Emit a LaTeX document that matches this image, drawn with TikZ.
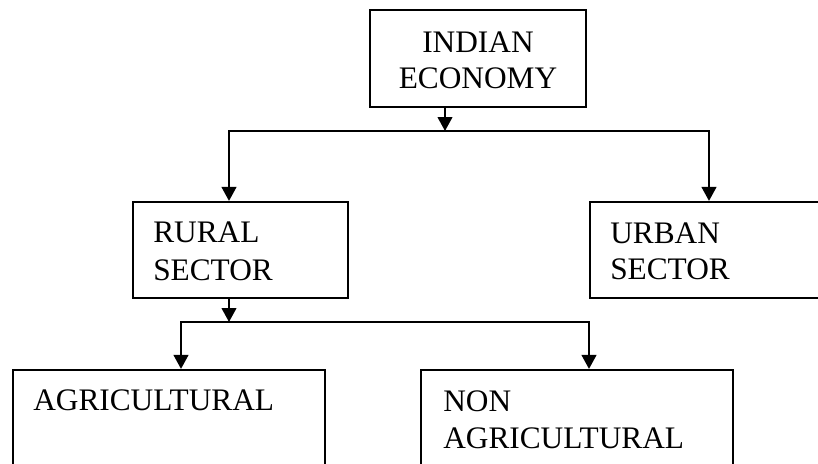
\documentclass[tikz,border=0pt]{standalone}
\usepackage{fontspec}
\setmainfont{Liberation Serif}
\usetikzlibrary{arrows.meta,fit}
\begin{document}
\begin{tikzpicture}[x=0.75pt,y=-0.75pt,
  box/.style={draw, line width=1.6pt, inner sep=0pt},
  lbl/.style={anchor=base west, inner sep=0pt, font=\fontsize{23.5}{28}\selectfont},
  clbl/.style={lbl, anchor=base},
  conn/.style={line width=1.6pt, line cap=rect},
  arr/.style={line width=1.6pt, -{Triangle[length=10.5pt,width=11pt]}}]
\useasboundingbox (0,0) rectangle (818,464);
\clip (0,0) rectangle (818,464);

% boxes
\node[box, fit={(370,10) (586,107)}] (econ) {};
\node[box, fit={(133,202) (348,298)}] (rural) {};
\node[box, fit={(590,202) (840,298)}] (urban) {};
\node[box, fit={(13,370) (325,490)}] (agri) {};
\node[box, fit={(421,370) (733,490)}] (nonagri) {};

% labels
\node[clbl] (econ1) at (478,52) {INDIAN};
\node[clbl] (econ2) at (478,88) {ECONOMY};
\node[lbl] (rural1) at (153,242) {RURAL};
\node[lbl] (rural2) at (153,280) {SECTOR};
\node[lbl] (urban1) at (610,243) {URBAN};
\node[lbl] (urban2) at (610,279) {SECTOR};
\node[lbl] (agri1) at (33,410) {AGRICULTURAL};
\node[lbl] (nonagri1) at (443,411) {NON};
\node[lbl] (nonagri2) at (443,448) {AGRICULTURAL};

% first split
\coordinate (j0) at (445,131);
\coordinate (jl) at (229,131);
\coordinate (jr) at (709,131);
\draw[arr] (econ.south -| j0) -- (j0);
\draw[conn] (jl) -- (jr);
\draw[arr] (jl) -- (jl |- rural.north);
\draw[arr] (jr) -- (jr |- urban.north);

% second split
\coordinate (k0) at (229,322);
\coordinate (kl) at (181,322);
\coordinate (kr) at (589,322);
\draw[arr] (rural.south -| k0) -- (k0);
\draw[conn] (kl) -- (kr);
\draw[arr] (kl) -- (kl |- agri.north);
\draw[arr] (kr) -- (kr |- nonagri.north);
\end{tikzpicture}
\end{document}
